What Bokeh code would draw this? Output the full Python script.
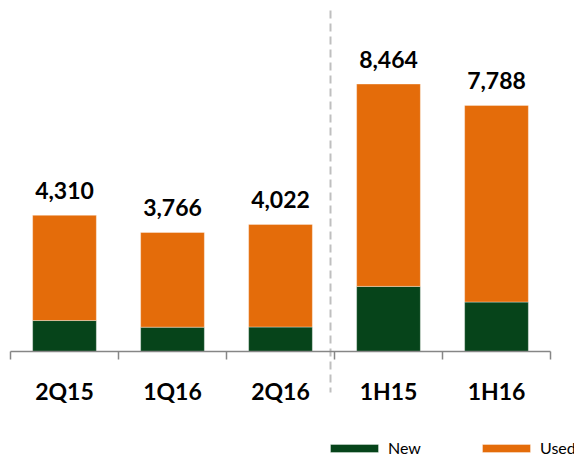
import numpy as np
from bokeh.plotting import figure
from bokeh.models import (Range1d, LinearAxis, FixedTicker, Legend, LegendItem,
                          ColumnDataSource)
from bokeh.core.properties import value
from bokeh.embed import file_html
from bokeh.resources import INLINE

categories = ["2Q15", "1Q16", "2Q16", "1H15", "1H16"]
totals = [4310, 3766, 4022, 8464, 7788]
new = [980, 770, 775, 2060, 1565]
used = [t - n for t, n in zip(totals, new)]
series = ["New", "Used"]
colors = ["#06441A", "#E46C0A"]

n = len(categories)
xs = list(np.arange(n) + 0.5)
src = ColumnDataSource(dict(x=xs, New=new, Used=used, total=totals, cat=categories,
                            zero=[0] * n, label=[f"{t:,}" for t in totals]))

W, H = 574, 457
AXIS_Y = 351          # screen row of the category axis
PX = 0.0316           # pixels per unit
X0, DX = 10, 108      # screen x of first category boundary, category width

p = figure(width=W, height=H, output_backend="svg", toolbar_location=None,
           x_axis_type=None, y_axis_type=None,
           x_range=Range1d(-X0 / DX, (W - X0) / DX),
           y_range=Range1d(-(H - AXIS_Y) / PX, AXIS_Y / PX),
           min_border_left=0, min_border_right=0, min_border_top=0,
           min_border_bottom=0)
p.outline_line_color = None
p.background_fill_color = "white"
p.border_fill_color = "white"

rs = p.vbar_stack(series, x="x", width=0.59, source=src, color=colors,
                  line_color="white", line_alpha=0.35, line_width=1)

p.text(x="x", y="total", text="label", source=src, text_align="center",
       text_baseline="alphabetic", y_offset=-25,
       text_font=value("Lato"), text_font_style="bold", text_font_size="23px",
       text_color="#000000")

p.text(x="x", y="zero", text="cat", source=src, text_align="center",
       text_baseline="alphabetic", y_offset=39,
       text_font=value("Lato"), text_font_style="bold", text_font_size="23px",
       text_color="#000000")

# dashed divider between quarters and half-years
div_x = 3 - 4 / DX
p.segment(x0=[div_x], x1=[div_x], y0=[(AXIS_Y - 10) / PX], y1=[-(392 - AXIS_Y) / PX],
          line_color="#BFBFBF", line_width=2, line_dash="8 5")

bounds = list(range(n + 1))
ax = LinearAxis(ticker=FixedTicker(ticks=bounds),
                major_label_overrides={b: "" for b in bounds},
                major_label_text_font_size="1px",
                bounds=(0, n), fixed_location=0,
                axis_line_color="#868686", axis_line_width=1.5,
                major_tick_in=8, major_tick_out=0,
                major_tick_line_color="#868686", major_tick_line_width=1.5,
                minor_tick_line_color=None,
                major_label_standoff=0)
p.add_layout(ax, "above")

legend = Legend(items=[LegendItem(label=s, renderers=[r]) for s, r in zip(series, rs)],
                orientation="horizontal", location=(324, 0),
                glyph_width=60, glyph_height=10, label_standoff=4,
                label_width=34, label_height=10, spacing=54, padding=0, margin=0,
                border_line_color=None, background_fill_alpha=0,
                label_text_font="Lato", label_text_font_size="16px",
                label_text_color="#000000")
p.add_layout(legend, "center")

open("out.html", "w").write(file_html(p, INLINE))
